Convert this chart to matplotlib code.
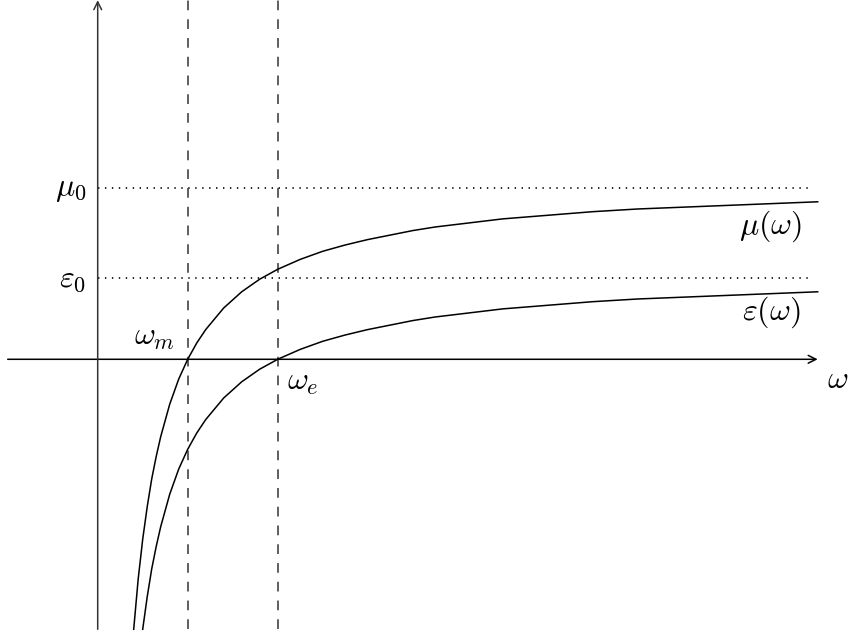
import matplotlib
matplotlib.use('Agg')
import matplotlib.pyplot as plt

plt.rcParams['mathtext.fontset'] = 'cm'
plt.rcParams['lines.scale_dashes'] = False

# values (omega in units of omega_m)
omega_mu = [0.40, 0.45, 0.50, 0.55, 0.60, 0.65, 0.70, 0.80, 0.90, 1.00, 1.10, 1.20, 1.40,
            1.60, 1.80, 2.00, 2.25, 2.50, 2.75, 3.00, 3.25, 3.50, 3.75, 4.00, 4.50, 5.00,
            5.50, 6.00, 6.50, 7.00, 7.50, 8.00]
mu_vals = [-3.00, -2.44, -2.00, -1.64, -1.33, -1.08, -0.86, -0.50, -0.22, 0.00, 0.18, 0.33, 0.57,
           0.75, 0.89, 1.00, 1.11, 1.20, 1.27, 1.33, 1.38, 1.43, 1.47, 1.50, 1.56, 1.60,
           1.64, 1.67, 1.69, 1.71, 1.73, 1.75]

omega_eps = [0.50, 0.55, 0.60, 0.65, 0.70, 0.80, 0.90, 1.00, 1.10, 1.20, 1.40, 1.60, 1.80,
             2.00, 2.25, 2.50, 2.75, 3.00, 3.25, 3.50, 3.75, 4.00, 4.50, 5.00, 5.50, 6.00,
             6.50, 7.00, 7.50, 8.00]
eps_vals = [-3.00, -2.64, -2.33, -2.08, -1.86, -1.50, -1.22, -1.00, -0.82, -0.67, -0.43, -0.25, -0.11,
            0.00, 0.11, 0.20, 0.27, 0.33, 0.38, 0.43, 0.47, 0.50, 0.56, 0.60, 0.64, 0.67,
            0.69, 0.71, 0.73, 0.75]

omega_m = 1.0
omega_e = 2.0
mu0 = 1.9
eps0 = 0.9

fig = plt.figure(figsize=(8.49, 6.37), dpi=100)
ax = fig.add_axes([0, 0, 1, 1])
ax.set_xlim(-1.0856, 8.348)
ax.set_ylim(-3.0856, 3.992)
ax.axis('off')

lw = 1.1
# axes with arrows
ax.annotate('', xy=(8.0, 0), xytext=(-1.0, 0),
            arrowprops=dict(arrowstyle='->', lw=lw, color='black', shrinkA=0, shrinkB=0, mutation_scale=14))
ax.annotate('', xy=(0, 3.99), xytext=(0, -3.0),
            arrowprops=dict(arrowstyle='->', lw=lw, color='#333333', shrinkA=0, shrinkB=0, mutation_scale=14))

# dotted asymptote levels
ax.plot([0, 7.94], [mu0, mu0], color='black', lw=1.2, linestyle=(0, (1.0, 4.0)))
ax.plot([0, 7.94], [eps0, eps0], color='black', lw=1.2, linestyle=(0, (1.0, 4.0)))

# dashed verticals
for w in (omega_m, omega_e):
    ax.plot([w, w], [-3.0, 3.99], color='#333333', lw=lw, linestyle=(0, (7.0, 6.5)))

# curves
ax.plot(omega_mu, mu_vals, color='black', lw=lw, solid_joinstyle='round')
ax.plot(omega_eps, eps_vals, color='black', lw=lw, solid_joinstyle='round')

fs = 23
ax.text(-0.13, mu0, r'$\mu_0$', fontsize=fs, ha='right', va='center')
ax.text(-0.13, eps0, r'$\varepsilon_0$', fontsize=fs, ha='right', va='center')
ax.text(0.86, 0.25, r'$\omega_m$', fontsize=fs, ha='right', va='center')
ax.text(2.1, -0.25, r'$\omega_e$', fontsize=fs, ha='left', va='center')
ax.text(8.1, -0.22, r'$\omega$', fontsize=fs, ha='left', va='center')
ax.text(7.48, 1.48, r'$\mu(\omega)$', fontsize=fs, ha='center', va='center')
ax.text(7.48, 0.52, r'$\varepsilon(\omega)$', fontsize=fs, ha='center', va='center')

fig.savefig('out.png', dpi=100)
